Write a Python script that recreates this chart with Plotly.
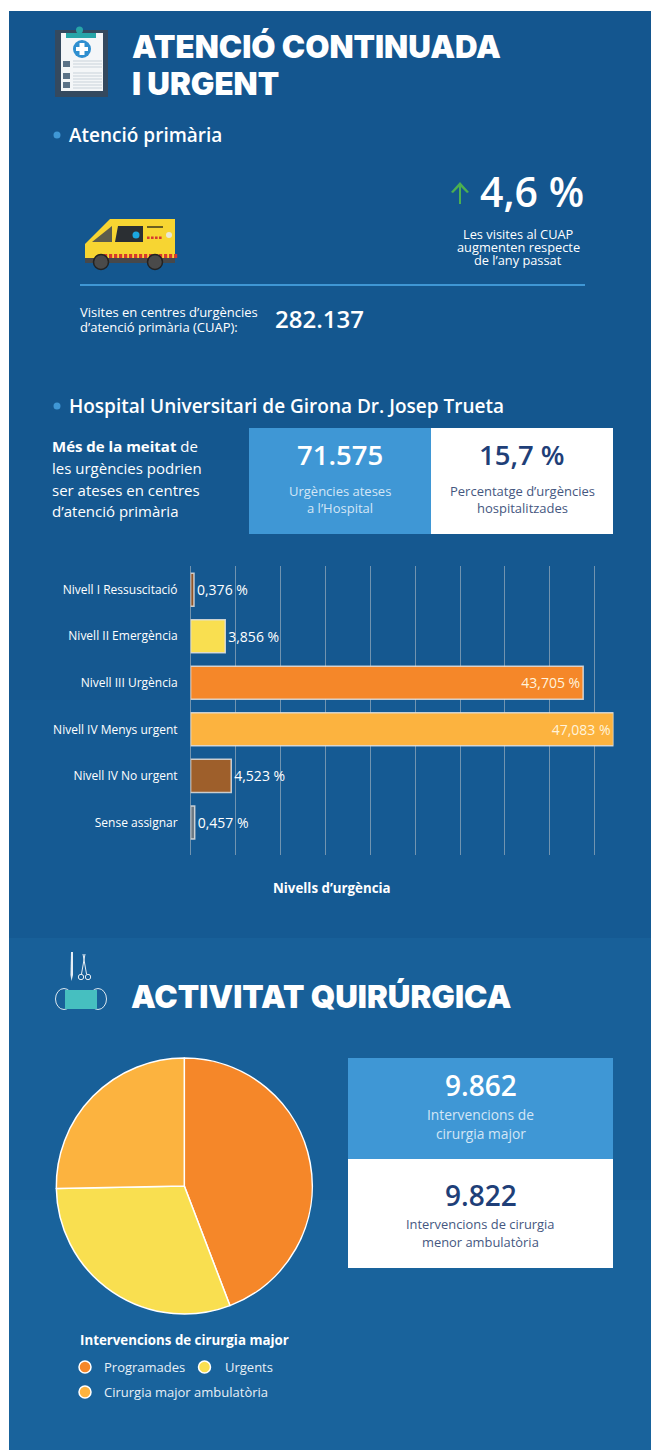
import plotly.graph_objects as go

W, H = 651, 1450

# ---- data ----
levels = ["Nivell I Ressuscitació", "Nivell II Emergència", "Nivell III Urgència",
          "Nivell IV Menys urgent", "Nivell IV No urgent", "Sense assignar"]
level_values = [0.376, 3.856, 43.705, 47.083, 4.523, 0.457]
level_labels = ["0,376 %", "3,856 %", "43,705 %", "47,083 %", "4,523 %", "0,457 %"]
level_colors = ["#8f5428", "#f9df50", "#f58729", "#fcb33f", "#9e5f2b", "#6d7a84"]
level_positions = ["outside", "outside", "inside", "inside", "outside", "outside"]

surgery_types = ["Programades", "Urgents", "Cirurgia major ambulatòria"]
surgery_shares = [44.2, 30.5, 25.3]
surgery_colors = ["#f58729", "#f9df50", "#fcb33f"]

# ---- helpers (pixel layout → paper coordinates) ----
FONT = "Open Sans"
TITLE_FONT = "Inter"
shapes, notes = [], []


def fx(x):
    return x / W


def fy(y):
    return 1 - y / H


def text(x, y, s, size, color="#ffffff", anchor="left", weight=400, family=FONT):
    notes.append(dict(x=fx(x), y=fy(y), xref="paper", yref="paper", text=s, showarrow=False,
                      xanchor=anchor, yanchor="middle", align=anchor, borderpad=0,
                      font=dict(size=size, color=color, family=family, weight=weight)))


def rect(x0, y0, x1, y1, color):
    shapes.append(dict(type="rect", xref="paper", yref="paper", x0=fx(x0), x1=fx(x1),
                       y0=fy(y0), y1=fy(y1), fillcolor=color, line_width=0, layer="below"))


def circle(cx, cy, r, color, line=None, lw=0, ry=None):
    ry = r if ry is None else ry
    shapes.append(dict(type="circle", xref="paper", yref="paper", x0=fx(cx - r), x1=fx(cx + r),
                       y0=fy(cy - ry), y1=fy(cy + ry), fillcolor=color,
                       line=dict(color=line or color, width=lw), layer="below"))


def line(x0, y0, x1, y1, color, w=1):
    shapes.append(dict(type="line", xref="paper", yref="paper", x0=fx(x0), x1=fx(x1),
                       y0=fy(y0), y1=fy(y1), line=dict(color=color, width=w), layer="below"))


def poly(pts, color):
    d = "M" + " L".join(f"{fx(a):.5f},{fy(b):.5f}" for a, b in pts) + " Z"
    shapes.append(dict(type="path", xref="paper", yref="paper", path=d, fillcolor=color,
                       line_width=0, layer="below"))


BLUE = "#3f97d5"
NAVY = "#1f3f78"
NAVY2 = "#45577f"
PALE = "#d3e6f6"

# background panel: a very soft top-to-bottom shift in small colour steps
panel_steps = [(11, "#14568f"), (230, "#14578f"), (460, "#155890"), (700, "#155a93"),
               (938, "#186099"), (1200, "#19639c")]
for (y0, col), (y1, _) in zip(panel_steps, panel_steps[1:] + [(1450, "")]):
    rect(9, y0, 651, y1, col)

# clipboard icon
rect(55, 30, 108, 97, "#34495f")
rect(61, 33, 103, 91, "#f4f6f8")
rect(66, 33, 96, 38, "#27a5a8")
circle(79.5, 30, 3.5, "#27a5a8")
circle(82, 49, 9, "#2f8fd0")
rect(79.5, 43, 84.5, 55, "#ffffff")
rect(76, 47, 88, 51, "#ffffff")
for yy in (64, 76, 85):
    rect(63, yy - 3, 70, yy + 3, "#5b7287")
    for dy in (-3, 0, 3):
        line(73, yy + dy, 102, yy + dy, "#c9d2da", 1)

# ambulance icon
poly([(85, 262), (85, 244), (110, 219), (175, 219), (175, 262)], "#f7d532")
poly([(92, 242), (112, 226), (112, 242)], "#5c5c4c")
poly([(115, 242), (118, 226), (143, 226), (143, 242)], "#2b2f33")
circle(136, 235, 3.5, "#1ba7e0")
rect(147, 226, 163, 228, "#6b5f20")
for xx in (147, 151, 155, 159):
    rect(xx, 236.5, xx + 2.6, 239, "#d63b2f")
circle(169, 235, 3, "#e8e8d8")
rect(85, 258, 175, 263, "#47484a")
for xx in range(104, 175, 5):
    rect(xx, 254, xx + 3.2, 258, "#d63b2f")
circle(101, 262, 7.5, "#4a4a4a", "#222222", 1.5)
circle(155, 262, 7.5, "#4a4a4a", "#222222", 1.5)

# section 1
text(131, 47, "ATENCIÓ CONTINUADA", 31.3, weight=900, family=TITLE_FONT)
text(131, 84, "I URGENT", 31.3, weight=900, family=TITLE_FONT)
circle(57, 135, 3.5, BLUE)
text(68, 135, "Atenció primària", 19, weight=600)
line(460, 186, 460, 204, "#4caf50", 2)
poly([(451, 192), (460, 182), (469, 192), (467, 193), (460, 186), (453, 193)], "#4caf50")
text(479, 191, "4,6 %", 41, weight=600)
for yy, s in zip((234, 247, 260), ("Les visites al CUAP", "augmenten respecte", "de l’any passat")):
    text(518, yy, s, 12.8, anchor="center")
line(80, 285, 585, 285, BLUE, 2)
text(79, 312, "Visites en centres d’urgències", 13)
text(79, 327, "d’atenció primària (CUAP):", 13)
text(274, 319, "282.137", 24, weight=600)

# section 2
circle(57, 406, 3.5, BLUE)
text(68, 406, "Hospital Universitari de Girona Dr. Josep Trueta", 19, weight=600)
text(51, 446, "<b>Més de la meitat</b> de", 15)
text(51, 468, "les urgències podrien", 15)
text(51, 490, "ser ateses en centres", 15)
text(51, 511, "d’atenció primària", 15)
rect(249, 428, 431, 534, BLUE)
rect(431, 428, 613, 534, "#ffffff")
text(340, 454, "71.575", 27.5, anchor="center", weight=600)
text(340, 491, "Urgències ateses", 13, PALE, "center")
text(340, 508, "a l’Hospital", 13, PALE, "center")
text(522, 454, "15,7 %", 27.5, NAVY, "center", 600)
text(522, 491, "Percentatge d’urgències", 13, NAVY2, "center")
text(522, 508, "hospitalitzades", 13, NAVY2, "center")
text(332, 888, "Nivells d’urgència", 13.3, anchor="center", weight=700)

# section 3: instruments and mask icon
poly([(71, 952), (73, 952), (73, 975), (71.5, 981), (70.5, 975)], "#e6eef5")
line(83, 954, 86.5, 974, "#e6eef5", 1)
line(85, 954, 81.5, 974, "#e6eef5", 1)
circle(81, 977, 2.7, "rgba(0,0,0,0)", "#e6eef5", 1)
circle(88, 977, 2.7, "rgba(0,0,0,0)", "#e6eef5", 1)
circle(64, 999, 8.5, "rgba(0,0,0,0)", "#dce8f0", 1, ry=10.5)
circle(98, 999, 8.5, "rgba(0,0,0,0)", "#dce8f0", 1, ry=10.5)
rect(65, 990, 97, 1009, "#46bfc0")
text(130, 997, "ACTIVITAT QUIRÚRGICA", 31.3, weight=900, family=TITLE_FONT)

rect(348, 1058, 613, 1159, BLUE)
rect(348, 1159, 613, 1268, "#ffffff")
text(480.5, 1085, "9.862", 28, anchor="center", weight=600)
text(480.5, 1114, "Intervencions de", 13.8, PALE, "center")
text(480.5, 1133, "cirurgia major", 13.8, PALE, "center")
text(480.5, 1195, "9.822", 28, NAVY, "center", 600)
text(480.5, 1224, "Intervencions de cirurgia", 12.9, NAVY2, "center")
text(480.5, 1242, "menor ambulatòria", 12.9, NAVY2, "center")

# pie legend
text(79, 1339.5, "Intervencions de cirurgia major", 13.3, weight=700)
legend_pos = [(85, 1367, 103), (204.5, 1367, 223.5), (85, 1392, 103)]
for (dx, dy, tx), name, col in zip(legend_pos, surgery_types, surgery_colors):
    circle(dx, dy, 6, col, "#ffffff", 1.5)
    text(tx, dy, name, 13, "#e8f0f7")

# ---- figure ----
fig = go.Figure()
fig.add_trace(go.Bar(
    y=levels, x=level_values, orientation="h",
    marker=dict(color=level_colors, line=dict(color="rgba(225,225,225,0.85)", width=1.5)),
    text=level_labels, textposition=level_positions, insidetextanchor="end",
    textangle=0, constraintext="none", cliponaxis=False,
    textfont=dict(size=14, color="#ffffff", family=FONT),
    outsidetextfont=dict(size=14, color="#ffffff", family=FONT),
    insidetextfont=dict(size=14, color="#fff3dc", family=FONT),
    width=0.71, hoverinfo="skip", showlegend=False,
))
fig.add_trace(go.Pie(
    labels=surgery_types, values=surgery_shares, sort=False, direction="clockwise", rotation=0,
    marker=dict(colors=surgery_colors, line=dict(color="#ffffff", width=1.5)),
    textinfo="none", hoverinfo="skip", showlegend=False,
    domain=dict(x=[fx(184.3 - 128), fx(184.3 + 128)], y=[fy(1186 + 128), fy(1186 - 128)]),
))
fig.update_layout(
    width=W, height=H, margin=dict(l=0, r=0, t=0, b=0), autosize=False,
    paper_bgcolor="#ffffff", plot_bgcolor="rgba(0,0,0,0)",
    shapes=shapes, annotations=notes, bargap=0.29,
    font=dict(family=FONT, color="#ffffff"),
    xaxis=dict(domain=[fx(190.6), fx(613.5)], range=[0, 47.083], dtick=5, tick0=0,
               showgrid=True, gridcolor="rgba(205,205,205,0.5)", gridwidth=1,
               showticklabels=False, zeroline=True, zerolinecolor="rgba(205,205,205,0.5)",
               zerolinewidth=1, showline=False, ticks=""),
    yaxis=dict(domain=[fy(855), fy(566.4)], range=[5.7, -0.5], type="category",
               categoryorder="array", categoryarray=levels, showgrid=False, zeroline=False,
               showline=False, ticks="", ticklabelstandoff=12,
               tickfont=dict(size=12, color="#ffffff", family=FONT)),
)
fig.write_html("out.html", post_script="document.body.style.margin='0';",
               config=dict(displayModeBar=False))
